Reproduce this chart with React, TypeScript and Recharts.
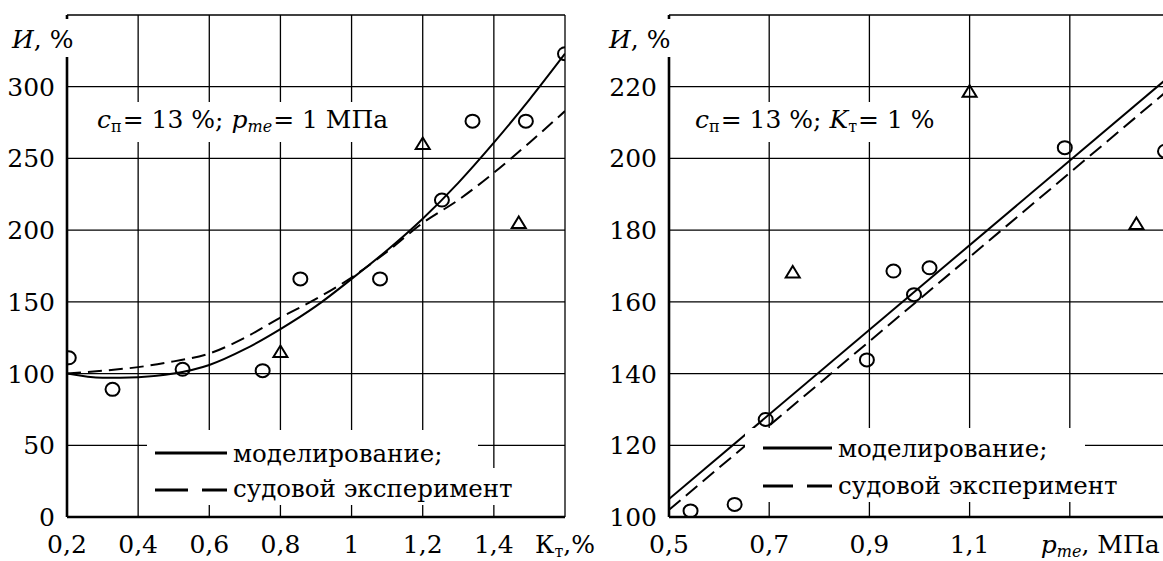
import { ComposedChart, Line, Scatter, XAxis, YAxis, CartesianGrid } from 'recharts';

const FONT = 'DejaVu Serif';
const txt = { fontFamily: FONT };
const TICK = 25;
const NOTE = 25;
const LEG = 24.5;
const SUB = 16;

// left panel: wear vs Kт
const ktTicks = [0.2, 0.4, 0.6, 0.8, 1, 1.2, 1.4, 1.6];
const wearTicksLeft = [0, 50, 100, 150, 200, 250, 300, 350];
const ktCurveX = [0.2, 0.3, 0.4, 0.5, 0.6, 0.7, 0.8, 0.9, 1.0, 1.1, 1.2, 1.3, 1.4, 1.5, 1.6];
const ktModel = [100, 97, 97.5, 100, 106, 117, 131, 147, 166, 186, 208, 233, 261, 291, 323];
const ktShip = [100, 102, 104.5, 108.5, 114, 125, 139, 152, 167, 185, 205, 221, 240, 261, 283];
const ktCircleX = [0.205, 0.328, 0.525, 0.75, 0.856, 1.08, 1.254, 1.34, 1.49, 1.6];
const ktCircleY = [111, 89, 103, 102, 166, 166, 221, 276, 276, 323];
const ktTriangleX = [0.8, 1.2, 1.47];
const ktTriangleY = [115, 260, 205];

// right panel: wear vs pme
const pmeTicks = [0.5, 0.7, 0.9, 1.1, 1.3, 1.5];
const wearTicksRight = [100, 120, 140, 160, 180, 200, 220, 240];
const pmeLineX = [0.5, 1.5];
const pmeModel = [105, 223];
const pmeShip = [102, 219.5];
const pmeCircleX = [0.543, 0.631, 0.693, 0.895, 0.948, 0.989, 1.02, 1.29, 1.49];
const pmeCircleY = [101.7, 103.5, 127.2, 143.8, 168.6, 162, 169.5, 203, 202];
const pmeTriangleX = [0.747, 1.1, 1.433];
const pmeTriangleY = [168.2, 218.6, 181.7];

const zip = (xs: number[], ys: number[]) => xs.map((x, i) => ({ x, y: ys[i] }));

const Ring = (p: any) => (
  <ellipse cx={p.cx} cy={p.cy} rx={7} ry={6.5} fill="none" stroke="#000" strokeWidth={2} />
);
const Tri = (p: any) => (
  <path
    d={`M${p.cx},${p.cy - 6.5} L${p.cx + 7},${p.cy + 5} L${p.cx - 7},${p.cy + 5} Z`}
    fill="none"
    stroke="#000"
    strokeWidth={2}
  />
);

const fmt = (v: number) => String(v).replace('.', ',');

const yTick = (top: number) => (p: any) => {
  if (p.payload.value === top) return <g />;
  return (
    <text x={p.x} y={p.y} dy="0.36em" textAnchor="end" fontSize={TICK} style={txt} fill="#000">
      {p.payload.value}
    </text>
  );
};

const ktTick = (p: any) => {
  const v = p.payload.value;
  if (v === 1.6) {
    return (
      <text x={p.x} y={p.y + 36} textAnchor="middle" fontSize={TICK} style={txt} fill="#000">
        <tspan>К</tspan>
        <tspan fontSize={SUB} dy={4}>т</tspan>
        <tspan dy={-4}>,%</tspan>
      </text>
    );
  }
  return (
    <text x={p.x} y={p.y + 36} textAnchor="middle" fontSize={TICK} style={txt} fill="#000">
      {fmt(v)}
    </text>
  );
};

const pmeTick = (p: any) => {
  const v = p.payload.value;
  if (v === 1.5) return <g />;
  if (v === 1.3) {
    return (
      <text x={p.x - 29} y={p.y + 36} textAnchor="start" fontSize={TICK} style={txt} fill="#000">
        <tspan fontStyle="italic">p</tspan>
        <tspan fontStyle="italic" fontSize={SUB} dy={4}>me</tspan>
        <tspan dy={-4}>, МПа</tspan>
      </text>
    );
  }
  return (
    <text x={p.x} y={p.y + 36} textAnchor="middle" fontSize={TICK} style={txt} fill="#000">
      {fmt(v)}
    </text>
  );
};

const axisStyle = { stroke: '#000', strokeWidth: 2.6 };

const App = () => {
  return (
    <div
      style={{
        position: 'absolute',
        left: 0,
        top: 0,
        width: 1163,
        height: 561,
        overflow: 'hidden',
        background: '#fff',
        fontFamily: FONT,
      }}
    >
      <div style={{ position: 'absolute', left: 0, top: 0 }}>
        <ComposedChart width={600} height={561} margin={{ top: 15, right: 35, bottom: 0, left: 7 }}>
          <CartesianGrid stroke="#000" strokeWidth={1.3} />
          <XAxis
            type="number"
            dataKey="x"
            domain={[0.2, 1.6]}
            ticks={ktTicks}
            interval={0}
            allowDataOverflow
            height={44}
            tickSize={0}
            tickMargin={0}
            tickLine={false}
            axisLine={axisStyle}
            tick={ktTick}
          />
          <YAxis
            type="number"
            dataKey="y"
            domain={[0, 350]}
            ticks={wearTicksLeft}
            interval={0}
            allowDataOverflow
            width={60}
            tickSize={0}
            tickMargin={12}
            tickLine={false}
            axisLine={axisStyle}
            tick={yTick(350)}
          />
          <Line
            data={zip(ktCurveX, ktModel)}
            dataKey="y"
            type="monotone"
            stroke="#000"
            strokeWidth={2}
            dot={false}
            isAnimationActive={false}
          />
          <Line
            data={zip(ktCurveX, ktShip)}
            dataKey="y"
            type="monotone"
            stroke="#000"
            strokeWidth={2}
            strokeDasharray="14 7"
            dot={false}
            isAnimationActive={false}
          />
          <Scatter data={zip(ktCircleX, ktCircleY)} dataKey="y" shape={Ring} isAnimationActive={false} />
          <Scatter data={zip(ktTriangleX, ktTriangleY)} dataKey="y" shape={Tri} isAnimationActive={false} />
        </ComposedChart>
      </div>

      <div style={{ position: 'absolute', left: 580, top: 0 }}>
        <ComposedChart width={600} height={561} margin={{ top: 15, right: 10, bottom: 0, left: 29 }}>
          <CartesianGrid stroke="#000" strokeWidth={1.3} />
          <XAxis
            type="number"
            dataKey="x"
            domain={[0.5, 1.5]}
            ticks={pmeTicks}
            interval={0}
            allowDataOverflow
            height={44}
            tickSize={0}
            tickMargin={0}
            tickLine={false}
            axisLine={axisStyle}
            tick={pmeTick}
          />
          <YAxis
            type="number"
            dataKey="y"
            domain={[100, 240]}
            ticks={wearTicksRight}
            interval={0}
            allowDataOverflow
            width={60}
            tickSize={0}
            tickMargin={12}
            tickLine={false}
            axisLine={axisStyle}
            tick={yTick(240)}
          />
          <Line
            data={zip(pmeLineX, pmeModel)}
            dataKey="y"
            type="linear"
            stroke="#000"
            strokeWidth={2}
            dot={false}
            isAnimationActive={false}
          />
          <Line
            data={zip(pmeLineX, pmeShip)}
            dataKey="y"
            type="linear"
            stroke="#000"
            strokeWidth={2}
            strokeDasharray="15 7"
            dot={false}
            isAnimationActive={false}
          />
          <Scatter data={zip(pmeCircleX, pmeCircleY)} dataKey="y" shape={Ring} isAnimationActive={false} />
          <Scatter data={zip(pmeTriangleX, pmeTriangleY)} dataKey="y" shape={Tri} isAnimationActive={false} />
        </ComposedChart>
      </div>

      {/* axis titles, notes and legends */}
      <svg
        width={1163}
        height={561}
        style={{ position: 'absolute', left: 0, top: 0, pointerEvents: 'none', fontFamily: FONT }}
        fill="#000"
      >
        <rect x={8} y={19} width={68} height={38} fill="#fff" />
        <text x={12} y={48} fontSize={TICK}>
          <tspan fontStyle="italic">И</tspan>, %
        </text>
        <rect x={604} y={19} width={72} height={38} fill="#fff" />
        <text x={609} y={48} fontSize={TICK}>
          <tspan fontStyle="italic">И</tspan>, %
        </text>

        <rect x={90} y={102} width={305} height={40} fill="#fff" />
        <text x={97} y={128} fontSize={NOTE}>
          <tspan fontStyle="italic">c</tspan>
          <tspan fontSize={SUB} dy={4}>п</tspan>
          <tspan dy={-4} dx={1}>= 13 %; </tspan>
          <tspan fontStyle="italic">p</tspan>
          <tspan fontStyle="italic" fontSize={SUB} dy={4}>me</tspan>
          <tspan dy={-4} dx={1}>= 1 МПа</tspan>
        </text>
        <rect x={688} y={102} width={258} height={40} fill="#fff" />
        <text x={695} y={128} fontSize={NOTE}>
          <tspan fontStyle="italic">c</tspan>
          <tspan fontSize={SUB} dy={4}>п</tspan>
          <tspan dy={-4} dx={1}>= 13 %; </tspan>
          <tspan fontStyle="italic">K</tspan>
          <tspan fontSize={SUB} dy={4}>т</tspan>
          <tspan dy={-4} dx={1}>= 1 %</tspan>
        </text>

        <rect x={147} y={430} width={331} height={38} fill="#fff" />
        <rect x={147} y={468} width={368} height={37} fill="#fff" />
        <line x1={155} y1={453} x2={227} y2={453} stroke="#000" strokeWidth={3} />
        <line x1={155} y1={490} x2={188} y2={490} stroke="#000" strokeWidth={3} />
        <line x1={202} y1={490} x2={227} y2={490} stroke="#000" strokeWidth={3} />
        <text x={233} y={462} fontSize={LEG}>моделирование;</text>
        <text x={233} y={497} fontSize={LEG}>судовой эксперимент</text>

        <rect x={745} y={428} width={340} height={39} fill="#fff" />
        <rect x={745} y={467} width={375} height={35} fill="#fff" />
        <line x1={763} y1={448} x2={832} y2={448} stroke="#000" strokeWidth={3} />
        <line x1={763} y1={486} x2={793} y2={486} stroke="#000" strokeWidth={3} />
        <line x1={807} y1={486} x2={832} y2={486} stroke="#000" strokeWidth={3} />
        <text x={838} y={457} fontSize={LEG}>моделирование;</text>
        <text x={838} y={494} fontSize={LEG}>судовой эксперимент</text>
      </svg>
    </div>
  );
};

export default App;
